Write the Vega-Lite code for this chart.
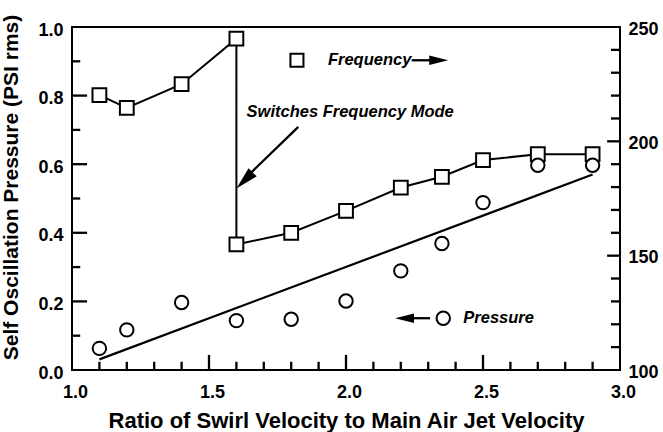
{
  "$schema": "https://vega.github.io/schema/vega-lite/v6.json",
  "width": 548,
  "height": 343,
  "autosize": "none",
  "padding": {"left": 72, "top": 27, "right": 43, "bottom": 62},
  "background": "white",
  "datasets": {
    "freq": [
      {"i": 1, "x": 1.1, "f": 220.2},
      {"i": 2, "x": 1.2, "f": 214.6},
      {"i": 3, "x": 1.4, "f": 225.0},
      {"i": 4, "x": 1.6, "f": 244.9},
      {"i": 5, "x": 1.6, "f": 154.9},
      {"i": 6, "x": 1.8, "f": 160.0},
      {"i": 7, "x": 2.0, "f": 169.6},
      {"i": 8, "x": 2.2, "f": 179.8},
      {"i": 9, "x": 2.35, "f": 184.5},
      {"i": 10, "x": 2.5, "f": 191.8},
      {"i": 11, "x": 2.7, "f": 194.4},
      {"i": 12, "x": 2.9, "f": 194.4}
    ],
    "pressure": [
      {"x": 1.1, "p": 0.063},
      {"x": 1.2, "p": 0.117},
      {"x": 1.4, "p": 0.197},
      {"x": 1.6, "p": 0.144},
      {"x": 1.8, "p": 0.148},
      {"x": 2.0, "p": 0.201},
      {"x": 2.2, "p": 0.289},
      {"x": 2.35, "p": 0.369},
      {"x": 2.5, "p": 0.488},
      {"x": 2.7, "p": 0.597},
      {"x": 2.9, "p": 0.597}
    ],
    "fit": [
      {"x": 1.1, "p": 0.031},
      {"x": 2.9, "p": 0.57}
    ],
    "notes": [
      {"x": 1.637, "p": 0.752, "label": "Switches Frequency Mode"},
      {"x": 1.934, "p": 0.903, "label": "Frequency"},
      {"x": 2.428, "p": 0.151, "label": "Pressure"}
    ],
    "segments": [
      {"x": 1.826, "p": 0.709, "x2": 1.64, "p2": 0.565},
      {"x": 2.24, "p": 0.903, "x2": 2.32, "p2": 0.903},
      {"x": 2.23, "p": 0.151, "x2": 2.307, "p2": 0.151},
      {"x": 1.1, "p": 0, "x2": 1.1, "p2": 0.024},
      {"x": 1.2, "p": 0, "x2": 1.2, "p2": 0.024},
      {"x": 1.3, "p": 0, "x2": 1.3, "p2": 0.024},
      {"x": 1.4, "p": 0, "x2": 1.4, "p2": 0.024},
      {"x": 1.5, "p": 0, "x2": 1.5, "p2": 0.044},
      {"x": 1.6, "p": 0, "x2": 1.6, "p2": 0.024},
      {"x": 1.7, "p": 0, "x2": 1.7, "p2": 0.024},
      {"x": 1.8, "p": 0, "x2": 1.8, "p2": 0.024},
      {"x": 1.9, "p": 0, "x2": 1.9, "p2": 0.024},
      {"x": 2.0, "p": 0, "x2": 2.0, "p2": 0.044},
      {"x": 2.1, "p": 0, "x2": 2.1, "p2": 0.024},
      {"x": 2.2, "p": 0, "x2": 2.2, "p2": 0.024},
      {"x": 2.3, "p": 0, "x2": 2.3, "p2": 0.024},
      {"x": 2.4, "p": 0, "x2": 2.4, "p2": 0.024},
      {"x": 2.5, "p": 0, "x2": 2.5, "p2": 0.044},
      {"x": 2.6, "p": 0, "x2": 2.6, "p2": 0.024},
      {"x": 2.7, "p": 0, "x2": 2.7, "p2": 0.024},
      {"x": 2.8, "p": 0, "x2": 2.8, "p2": 0.024},
      {"x": 2.9, "p": 0, "x2": 2.9, "p2": 0.024},
      {"x": 1, "p": 0.1, "x2": 1.03, "p2": 0.1},
      {"x": 1, "p": 0.2, "x2": 1.055, "p2": 0.2},
      {"x": 1, "p": 0.3, "x2": 1.03, "p2": 0.3},
      {"x": 1, "p": 0.4, "x2": 1.055, "p2": 0.4},
      {"x": 1, "p": 0.5, "x2": 1.03, "p2": 0.5},
      {"x": 1, "p": 0.6, "x2": 1.055, "p2": 0.6},
      {"x": 1, "p": 0.7, "x2": 1.03, "p2": 0.7},
      {"x": 1, "p": 0.8, "x2": 1.055, "p2": 0.8},
      {"x": 1, "p": 0.9, "x2": 1.03, "p2": 0.9},
      {"x": 3, "p": 0.0667, "x2": 2.967, "p2": 0.0667},
      {"x": 3, "p": 0.1333, "x2": 2.967, "p2": 0.1333},
      {"x": 3, "p": 0.2, "x2": 2.967, "p2": 0.2},
      {"x": 3, "p": 0.2667, "x2": 2.967, "p2": 0.2667},
      {"x": 3, "p": 0.3333, "x2": 2.953, "p2": 0.3333},
      {"x": 3, "p": 0.4, "x2": 2.967, "p2": 0.4},
      {"x": 3, "p": 0.4667, "x2": 2.967, "p2": 0.4667},
      {"x": 3, "p": 0.5333, "x2": 2.967, "p2": 0.5333},
      {"x": 3, "p": 0.6, "x2": 2.967, "p2": 0.6},
      {"x": 3, "p": 0.6667, "x2": 2.953, "p2": 0.6667},
      {"x": 3, "p": 0.7333, "x2": 2.967, "p2": 0.7333},
      {"x": 3, "p": 0.8, "x2": 2.967, "p2": 0.8},
      {"x": 3, "p": 0.8667, "x2": 2.967, "p2": 0.8667},
      {"x": 3, "p": 0.9333, "x2": 2.967, "p2": 0.9333}
    ],
    "headSwitch": [{"x": 1.6, "p": 0.529}],
    "headFreq": [{"x": 2.373, "p": 0.903}],
    "headPress": [{"x": 2.179, "p": 0.151}],
    "legendCircle": [{"x": 2.355, "p": 0.151}],
    "legendSquare": [{"x": 1.821, "f": 235.5}]
  },
  "config": {
    "view": {"stroke": "black", "strokeWidth": 2},
    "axis": {
      "domain": false,
      "grid": false,
      "ticks": false,
      "labelColor": "black",
      "titleColor": "black",
      "labelFont": "Liberation Sans",
      "labelFontWeight": "bold",
      "labelFontSize": 18,
      "titleFont": "Liberation Sans",
      "titleFontWeight": "bold"
    }
  },
  "resolve": {
    "scale": {"x": "independent", "y": "independent"},
    "axis": {"x": "independent", "y": "independent"}
  },
  "layer": [
    {
      "data": {"name": "freq"},
      "mark": {"type": "line", "color": "black", "strokeWidth": 2},
      "encoding": {
        "x": {"field": "x", "type": "quantitative", "scale": {"domain": [1, 3], "nice": false, "zero": false}, "axis": null},
        "y": {"field": "f", "type": "quantitative", "scale": {"domain": [100, 250], "nice": false, "zero": false}, "axis": null},
        "order": {"field": "i", "type": "quantitative"}
      }
    },
    {
      "data": {"name": "freq"},
      "mark": {"type": "point", "shape": "square", "filled": true, "fill": "white", "stroke": "black", "strokeWidth": 2, "size": 190, "opacity": 1},
      "encoding": {
        "x": {"field": "x", "type": "quantitative", "scale": {"domain": [1, 3], "nice": false, "zero": false}, "axis": null},
        "y": {"field": "f", "type": "quantitative", "scale": {"domain": [100, 250], "nice": false, "zero": false},
          "axis": {"orient": "right", "values": [100, 150, 200, 250], "labelPadding": 8, "labelOffset": 2, "title": null}}
      }
    },
    {
      "data": {"name": "legendSquare"},
      "mark": {"type": "point", "shape": "square", "filled": true, "fill": "white", "stroke": "black", "strokeWidth": 2, "size": 170, "opacity": 1},
      "encoding": {
        "x": {"field": "x", "type": "quantitative", "scale": {"domain": [1, 3], "nice": false, "zero": false}, "axis": null},
        "y": {"field": "f", "type": "quantitative", "scale": {"domain": [100, 250], "nice": false, "zero": false}, "axis": null}
      }
    },
    {
      "data": {"name": "fit"},
      "mark": {"type": "line", "color": "black", "strokeWidth": 2.2},
      "encoding": {
        "x": {"field": "x", "type": "quantitative", "scale": {"domain": [1, 3], "nice": false, "zero": false}, "axis": null},
        "y": {"field": "p", "type": "quantitative", "scale": {"domain": [0, 1], "nice": false, "zero": false}, "axis": null}
      }
    },
    {
      "data": {"name": "pressure"},
      "mark": {"type": "point", "shape": "circle", "filled": true, "fill": "white", "stroke": "black", "strokeWidth": 2, "size": 180, "opacity": 1},
      "encoding": {
        "x": {"field": "x", "type": "quantitative", "scale": {"domain": [1, 3], "nice": false, "zero": false}, "axis": null},
        "y": {"field": "p", "type": "quantitative", "scale": {"domain": [0, 1], "nice": false, "zero": false}, "axis": null}
      }
    },
    {
      "data": {"name": "legendCircle"},
      "mark": {"type": "point", "shape": "circle", "filled": true, "fill": "white", "stroke": "black", "strokeWidth": 2, "size": 180, "opacity": 1},
      "encoding": {
        "x": {"field": "x", "type": "quantitative", "scale": {"domain": [1, 3], "nice": false, "zero": false}, "axis": null},
        "y": {"field": "p", "type": "quantitative", "scale": {"domain": [0, 1], "nice": false, "zero": false}, "axis": null}
      }
    },
    {
      "data": {"name": "notes"},
      "mark": {"type": "text", "align": "left", "baseline": "middle", "font": "Liberation Sans", "fontWeight": "bold", "fontStyle": "italic", "fontSize": 16.5, "color": "black"},
      "encoding": {
        "x": {"field": "x", "type": "quantitative", "scale": {"domain": [1, 3], "nice": false, "zero": false},
          "axis": {"orient": "bottom", "values": [1, 1.5, 2, 2.5, 3], "format": ".1f", "labelPadding": 13, "labelFlush": false, "labelOffset": 3,
            "title": "Ratio of Swirl Velocity to Main Air Jet Velocity", "titleFontSize": 22, "titleY": 57, "titleBaseline": "alphabetic"}},
        "y": {"field": "p", "type": "quantitative", "scale": {"domain": [0, 1], "nice": false, "zero": false},
          "axis": {"orient": "left", "values": [0, 0.2, 0.4, 0.6, 0.8, 1], "format": ".1f", "labelPadding": 9, "labelOffset": 3,
            "title": "Self Oscillation Pressure (PSI rms)", "titleFontSize": 21, "titleX": -61, "titleY": 160, "titleBaseline": "middle"}},
        "text": {"field": "label"}
      }
    },
    {
      "data": {"name": "segments"},
      "mark": {"type": "rule", "color": "black", "strokeWidth": 2.3},
      "encoding": {
        "x": {"field": "x", "type": "quantitative", "scale": {"domain": [1, 3], "nice": false, "zero": false}, "axis": null},
        "x2": {"field": "x2"},
        "y": {"field": "p", "type": "quantitative", "scale": {"domain": [0, 1], "nice": false, "zero": false}, "axis": null},
        "y2": {"field": "p2"}
      }
    },
    {
      "data": {"name": "headSwitch"},
      "mark": {"type": "point", "shape": "M0,0 L1,4 L-1,4 Z", "filled": true, "color": "black", "size": 132, "angle": 225, "opacity": 1},
      "encoding": {
        "x": {"field": "x", "type": "quantitative", "scale": {"domain": [1, 3], "nice": false, "zero": false}, "axis": null},
        "y": {"field": "p", "type": "quantitative", "scale": {"domain": [0, 1], "nice": false, "zero": false}, "axis": null}
      }
    },
    {
      "data": {"name": "headFreq"},
      "mark": {"type": "point", "shape": "M0,0 L1,4 L-1,4 Z", "filled": true, "color": "black", "size": 90, "angle": 90, "opacity": 1},
      "encoding": {
        "x": {"field": "x", "type": "quantitative", "scale": {"domain": [1, 3], "nice": false, "zero": false}, "axis": null},
        "y": {"field": "p", "type": "quantitative", "scale": {"domain": [0, 1], "nice": false, "zero": false}, "axis": null}
      }
    },
    {
      "data": {"name": "headPress"},
      "mark": {"type": "point", "shape": "M0,0 L1,4 L-1,4 Z", "filled": true, "color": "black", "size": 90, "angle": 270, "opacity": 1},
      "encoding": {
        "x": {"field": "x", "type": "quantitative", "scale": {"domain": [1, 3], "nice": false, "zero": false}, "axis": null},
        "y": {"field": "p", "type": "quantitative", "scale": {"domain": [0, 1], "nice": false, "zero": false}, "axis": null}
      }
    }
  ]
}
